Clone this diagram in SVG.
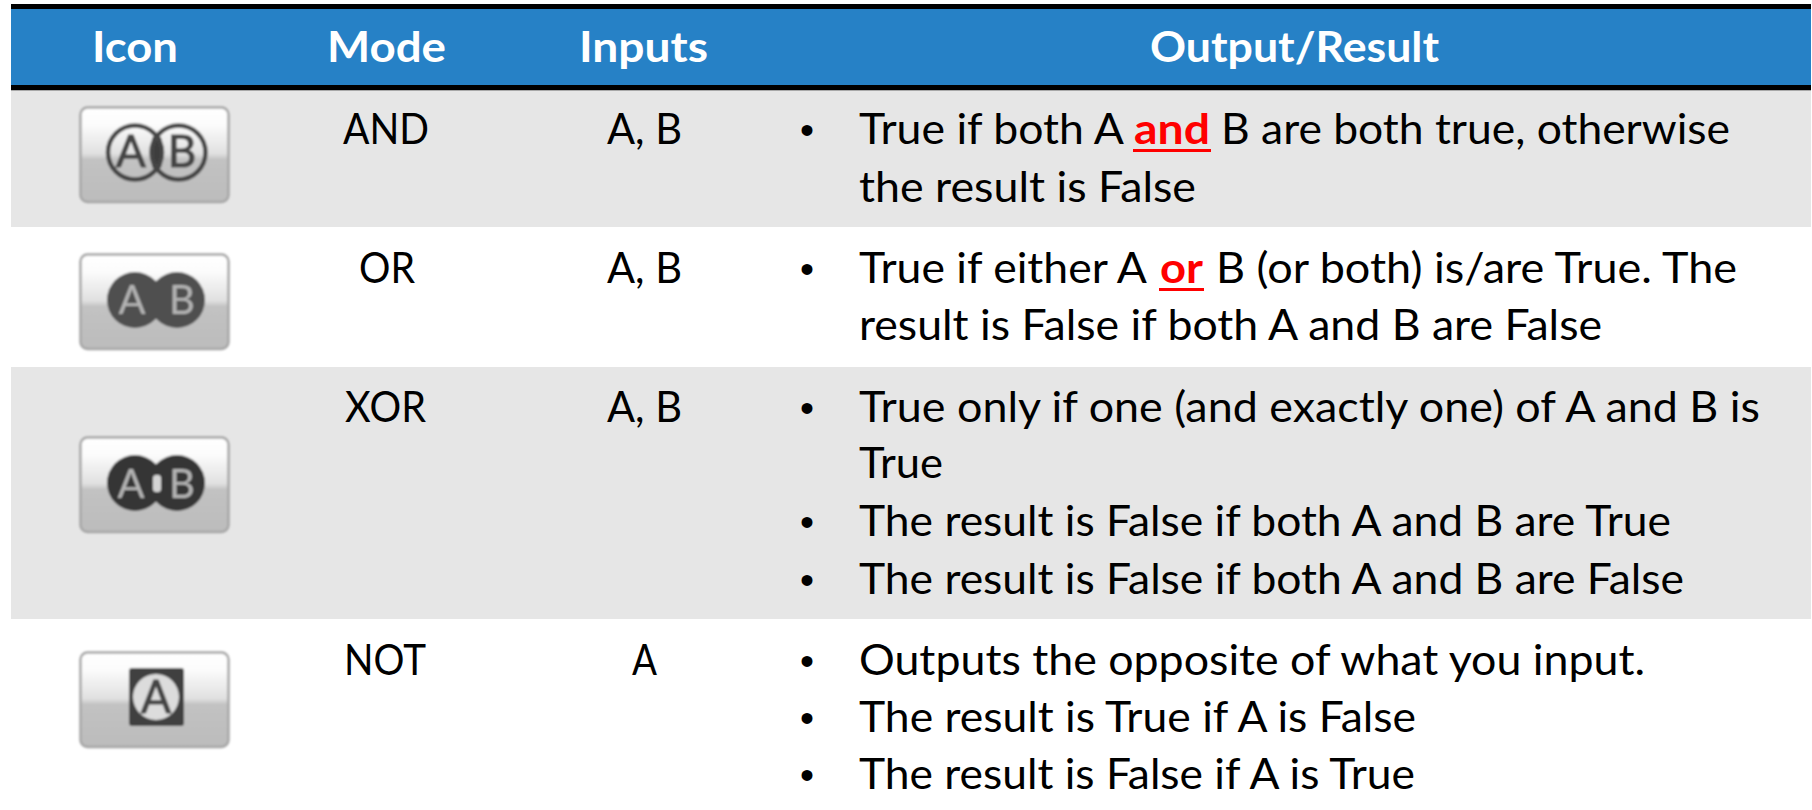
<svg xmlns="http://www.w3.org/2000/svg" width="1812" height="810" viewBox="0 0 1812 810">
<style>
text{font-family:Lato,"Liberation Sans",sans-serif;font-size:42px;fill:#000}
.h{font-weight:700;fill:#fff;font-size:42px}
.r{font-weight:700;fill:#ff0000}
.b{font-family:"Liberation Sans",sans-serif;font-size:40px}
.ic{font-size:44px;text-anchor:middle}
.dk{fill:#444;stroke:#444;stroke-width:1.200}
.lt{fill:#b4b4b4;font-size:40px}
</style>
<defs>
<linearGradient id="btn" x1="0" y1="0" x2="0" y2="1">
<stop offset="0" stop-color="#ffffff"/><stop offset=".18" stop-color="#fcfcfc"/><stop offset=".49" stop-color="#e0e0e0"/><stop offset=".55" stop-color="#c2c2c2"/><stop offset="1" stop-color="#bcbcbc"/>
</linearGradient>
<filter id="soft" x="-10%" y="-10%" width="120%" height="120%"><feGaussianBlur stdDeviation="0.9"/></filter>
<rect id="button" x="0.5" y="0.5" width="148" height="94.500" rx="7" fill="url(#btn)" stroke="#a6a6a6" stroke-width="2.500"/>
</defs>

<g id="table-bands">
<rect x="11" y="90" width="1800" height="137" fill="#e6e6e6"/>
<rect x="11" y="367" width="1800" height="252" fill="#e6e6e6"/>
</g>

<g id="header">
<rect x="11" y="4" width="1800" height="86" fill="#000"/>
<rect x="11" y="9" width="1800" height="76" fill="#2681c6"/>
<rect x="11" y="90" width="1800" height="1" fill="#a8a8a8"/>
<text class="h" x="92" y="62" textLength="86" lengthAdjust="spacingAndGlyphs">Icon</text>
<text class="h" x="327" y="62" textLength="119" lengthAdjust="spacingAndGlyphs">Mode</text>
<text class="h" x="579" y="62" textLength="129" lengthAdjust="spacingAndGlyphs">Inputs</text>
<text class="h" x="1150" y="62" textLength="289" lengthAdjust="spacingAndGlyphs">Output/Result</text>
</g>

<g id="row-and">
<g id="icon-and" transform="translate(80 107)" filter="url(#soft)">
<use href="#button"/>
<rect x="72" y="29" width="9.500" height="33" rx="4" fill="#3c3c3c"/>
<circle cx="55" cy="45.500" r="27" fill="none" stroke="#444" stroke-width="4.500"/>
<circle cx="98.500" cy="45.500" r="27" fill="none" stroke="#444" stroke-width="4.500"/>
<text class="ic dk" x="51" y="60">A</text>
<text class="ic dk" x="102" y="60">B</text>
</g>
<text x="343" y="144" textLength="86" lengthAdjust="spacingAndGlyphs">AND</text>
<text x="607" y="144" textLength="75" lengthAdjust="spacingAndGlyphs">A, B</text>
<text class="b" x="800" y="144">•</text>
<text x="859" y="144" textLength="265" lengthAdjust="spacingAndGlyphs">True if both A</text>
<text class="r" x="1134" y="144" textLength="76" lengthAdjust="spacingAndGlyphs">and</text>
<rect x="1133" y="149" width="78" height="3" fill="#ff0000"/>
<text x="1221" y="144" textLength="509" lengthAdjust="spacingAndGlyphs">B are both true, otherwise</text>
<text x="859" y="202" textLength="337" lengthAdjust="spacingAndGlyphs">the result is False</text>
</g>

<g id="row-or">
<g id="icon-or" transform="translate(80 254)" filter="url(#soft)">
<use href="#button"/>
<circle cx="55" cy="46" r="28" fill="#505050"/>
<circle cx="97" cy="46" r="28" fill="#505050"/>
<text class="ic lt" x="52" y="60">A</text>
<text class="ic lt" x="102" y="60">B</text>
</g>
<text x="359" y="283" textLength="56" lengthAdjust="spacingAndGlyphs">OR</text>
<text x="607" y="283" textLength="75" lengthAdjust="spacingAndGlyphs">A, B</text>
<text class="b" x="800" y="283">•</text>
<text x="859" y="283" textLength="288" lengthAdjust="spacingAndGlyphs">True if either A</text>
<text class="r" x="1160" y="283" textLength="43" lengthAdjust="spacingAndGlyphs">or</text>
<rect x="1159" y="288" width="45" height="3" fill="#ff0000"/>
<text x="1216" y="283" textLength="521" lengthAdjust="spacingAndGlyphs">B (or both) is/are True. The</text>
<text x="859" y="340" textLength="743" lengthAdjust="spacingAndGlyphs">result is False if both A and B are False</text>
</g>

<g id="row-xor">
<g id="icon-xor" transform="translate(80 437)" filter="url(#soft)">
<use href="#button"/>
<circle cx="55" cy="46" r="28" fill="#363636"/>
<circle cx="97" cy="46" r="28" fill="#363636"/>
<rect x="73" y="38" width="8" height="17" rx="3" fill="#d4d4d4"/>
<text class="ic lt" x="51" y="61">A</text>
<text class="ic lt" x="102" y="61">B</text>
</g>
<text x="345" y="422" textLength="81" lengthAdjust="spacingAndGlyphs">XOR</text>
<text x="607" y="422" textLength="75" lengthAdjust="spacingAndGlyphs">A, B</text>
<text class="b" x="800" y="422">•</text>
<text x="859" y="422" textLength="901" lengthAdjust="spacingAndGlyphs">True only if one (and exactly one) of A and B is</text>
<text x="859" y="478" textLength="84" lengthAdjust="spacingAndGlyphs">True</text>
<text class="b" x="800" y="536">•</text>
<text x="859" y="536" textLength="812" lengthAdjust="spacingAndGlyphs">The result is False if both A and B are True</text>
<text class="b" x="800" y="594">•</text>
<text x="859" y="594" textLength="825" lengthAdjust="spacingAndGlyphs">The result is False if both A and B are False</text>
</g>

<g id="row-not">
<g id="icon-not" transform="translate(80 652)" filter="url(#soft)">
<use href="#button"/>
<rect x="49" y="16" width="55" height="58" rx="3" fill="#404040"/>
<circle cx="76" cy="45" r="23" fill="#dcdcdc"/>
<text class="ic dk" x="76" y="61" style="font-size:47px" textLength="30" lengthAdjust="spacingAndGlyphs">A</text>
</g>
<text x="344" y="675" textLength="82" lengthAdjust="spacingAndGlyphs">NOT</text>
<text x="632" y="675" textLength="25" lengthAdjust="spacingAndGlyphs">A</text>
<text class="b" x="800" y="675">•</text>
<text x="859" y="675" textLength="786" lengthAdjust="spacingAndGlyphs">Outputs the opposite of what you input.</text>
<text class="b" x="800" y="732">•</text>
<text x="859" y="732" textLength="557" lengthAdjust="spacingAndGlyphs">The result is True if A is False</text>
<text class="b" x="800" y="789">•</text>
<text x="859" y="789" textLength="556" lengthAdjust="spacingAndGlyphs">The result is False if A is True</text>
</g>
</svg>
